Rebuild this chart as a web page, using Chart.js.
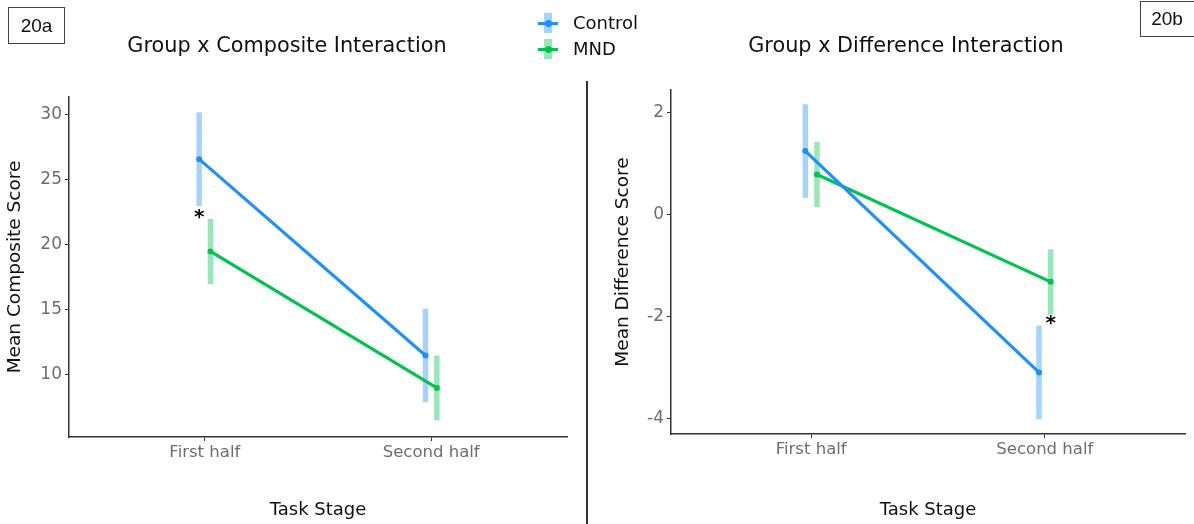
<!DOCTYPE html>
<html>
<head>
<meta charset="utf-8">
<script src="https://cdn.jsdelivr.net/npm/chart.js@4.4.0/dist/chart.umd.min.js"></script>
<style>
  body { margin: 0; background: #fff; }
  #page { position: relative; width: 1194px; height: 524px; overflow: hidden; font-family: "DejaVu Sans", sans-serif; }
  .panel { position: absolute; top: 0; }
  .tag { position: absolute; border: 1px solid #444; font-family: "Liberation Sans", Arial, sans-serif; font-size: 19px; color: #111; text-align: center; box-sizing: border-box; }
  .title { position: absolute; font-size: 20.8px; color: #111; transform: translate(-50%, -50%); white-space: nowrap; }
  #divider { position: absolute; left: 586px; top: 81px; width: 2px; height: 443px; background: #333; }
  .legend-row { position: absolute; left: 536px; height: 24px; font-size: 18px; color: #111; }
  .legend-row .bar { position: absolute; left: 8px; top: 2px; width: 8px; height: 20px; }
  .legend-row .seg { position: absolute; left: 2px; top: 11px; width: 20px; height: 3px; }
  .legend-row .dot { position: absolute; left: 9px; top: 9px; width: 7px; height: 7px; border-radius: 50%; }
  .legend-row span { position: absolute; left: 37px; top: 0; line-height: 24px; }
</style>
</head>
<body>
<div id="page">
  <div class="panel" style="left:0"><canvas id="compositeChart" width="587" height="524"></canvas></div>
  <div class="panel" style="left:587px"><canvas id="differenceChart" width="607" height="524"></canvas></div>

  <div class="tag" style="left:8px;top:7px;width:57px;height:37px;line-height:35px">20a</div>
  <div class="tag" style="left:1140px;top:1px;width:60px;height:36px;line-height:34px;padding-right:6px">20b</div>
  <div class="title" style="left:287px;top:45px">Group x Composite Interaction</div>
  <div class="title" style="left:906px;top:45px">Group x Difference Interaction</div>
  <div id="divider"></div>

  <div class="legend-row" style="top:11px">
    <div class="bar" style="background:rgba(30,144,255,0.4)"></div>
    <div class="seg" style="background:#1e90ff"></div>
    <div class="dot" style="background:#1e90ff"></div>
    <span>Control</span>
  </div>
  <div class="legend-row" style="top:37px">
    <div class="bar" style="background:rgba(0,196,80,0.4)"></div>
    <div class="seg" style="background:#00c450"></div>
    <div class="dot" style="background:#00c450"></div>
    <span>MND</span>
  </div>
</div>

<script>
// Данные: этапы задания и средние значения с полуширинами планок погрешностей
const stages = ['First half', 'Second half'];

const compositeControl = [26.6, 11.5];
const compositeControlErr = [3.6, 3.6];
const compositeMND = [19.5, 9.0];
const compositeMNDErr = [2.5, 2.5];
const compositeTicks = [10, 15, 20, 25, 30];
const compositeRange = [5.23, 31.38];
const compositeStar = { stage: 0, group: 'Control', y: 22.1 };

const diffControl = [1.25, -3.1];
const diffControlErr = [0.92, 0.92];
const diffMND = [0.79, -1.32];
const diffMNDErr = [0.64, 0.64];
const diffTicks = [-4, -2, 0, 2];
const diffRange = [-4.31, 2.45];
const diffStar = { stage: 1, group: 'MND', y: -2.15 };

// Цвета групп
const BLUE = '#1e90ff';
const BLUE_LIGHT = 'rgba(30,144,255,0.4)';
const GREEN = '#00c450';
const GREEN_LIGHT = 'rgba(0,196,80,0.4)';

const DODGE = 0.025; // сдвиг групп вдоль оси X
const offsets = { Control: -DODGE, MND: DODGE };

// Линия средних для группы
function meanLine(label, means, color) {
    return {
        label: label,
        data: means.map((v, i) => ({ x: i + 1 + offsets[label], y: v })),
        borderColor: color,
        backgroundColor: color,
        borderWidth: 3.2,
        pointRadius: 3,
        pointBorderWidth: 0,
        pointBackgroundColor: color,
        order: 0
    };
}

// Вертикальные планки погрешностей
function errorBars(label, means, errs, color) {
    return means.map((v, i) => ({
        label: label + ' error',
        data: [
            { x: i + 1 + offsets[label], y: v - errs[i] },
            { x: i + 1 + offsets[label], y: v + errs[i] }
        ],
        borderColor: color,
        borderWidth: 5.5,
        borderCapStyle: 'butt',
        pointRadius: 0,
        order: 1
    }));
}

// Звёздочка значимости
const starPlugin = {
    id: 'star',
    afterDatasetsDraw(chart, args, opts) {
        const s = opts.mark;
        if (!s) return;
        const { ctx, scales } = chart;
        const x = scales.x.getPixelForValue(s.stage + 1 + offsets[s.group]);
        const y = scales.y.getPixelForValue(s.y);
        ctx.save();
        ctx.fillStyle = '#000';
        ctx.font = 'bold 20px "DejaVu Sans"';
        ctx.textAlign = 'center';
        ctx.textBaseline = 'middle';
        ctx.fillText('*', x, y);
        ctx.restore();
    }
};

function buildChart(canvasId, cfg) {
    const ctx = document.getElementById(canvasId).getContext('2d');
    return new Chart(ctx, {
        type: 'line',
        data: {
            datasets: [
                ...errorBars('Control', cfg.control, cfg.controlErr, BLUE_LIGHT),
                ...errorBars('MND', cfg.mnd, cfg.mndErr, GREEN_LIGHT),
                meanLine('Control', cfg.control, BLUE),
                meanLine('MND', cfg.mnd, GREEN)
            ]
        },
        plugins: [starPlugin],
        options: {
            responsive: false,
            animation: false,
            layout: { padding: cfg.padding },
            plugins: {
                legend: { display: false },
                tooltip: { enabled: false },
                star: { mark: cfg.star }
            },
            scales: {
                x: {
                    type: 'linear',
                    min: 0.4,
                    max: 2.6,
                    afterBuildTicks: s => { s.ticks = stages.map((_, i) => ({ value: i + 1 })); },
                    afterFit: s => { s.height = cfg.xHeight; },
                    ticks: {
                        callback: v => stages[v - 1],
                        color: '#6e6e6e',
                        font: { family: 'DejaVu Sans', size: 16.5 },
                        padding: 2
                    },
                    grid: { drawOnChartArea: false, tickLength: 4, color: '#333' },
                    border: { color: '#333', width: 1.5 },
                    title: {
                        display: true,
                        text: 'Task Stage',
                        color: '#111',
                        font: { family: 'DejaVu Sans', size: 18 },
                        padding: { top: 0, bottom: 3 }
                    }
                },
                y: {
                    type: 'linear',
                    min: cfg.range[0],
                    max: cfg.range[1],
                    afterBuildTicks: s => { s.ticks = cfg.ticks.map(v => ({ value: v })); },
                    afterFit: s => { s.width = cfg.yWidth; },
                    ticks: {
                        color: '#6e6e6e',
                        font: { family: 'DejaVu Sans', size: 17 },
                        padding: 3
                    },
                    grid: { drawOnChartArea: false, tickLength: 4, color: '#333' },
                    border: { color: '#333', width: 1.5 },
                    title: {
                        display: true,
                        text: cfg.yTitle,
                        color: '#111',
                        font: { family: 'DejaVu Sans', size: 18.5 },
                        padding: { top: cfg.yTitlePad, bottom: 0 }
                    }
                }
            }
        }
    });
}

buildChart('compositeChart', {
    control: compositeControl, controlErr: compositeControlErr,
    mnd: compositeMND, mndErr: compositeMNDErr,
    ticks: compositeTicks, range: compositeRange, star: compositeStar,
    yTitle: 'Mean Composite Score', yTitlePad: 4,
    yWidth: 69, xHeight: 87,
    padding: { top: 97, right: 20, left: 0, bottom: 0 }
});

buildChart('differenceChart', {
    control: diffControl, controlErr: diffControlErr,
    mnd: diffMND, mndErr: diffMNDErr,
    ticks: diffTicks, range: diffRange, star: diffStar,
    yTitle: 'Mean Difference Score', yTitlePad: 25,
    yWidth: 84, xHeight: 90,
    padding: { top: 90, right: 9, left: 0, bottom: 0 }
});
</script>
</body>
</html>
